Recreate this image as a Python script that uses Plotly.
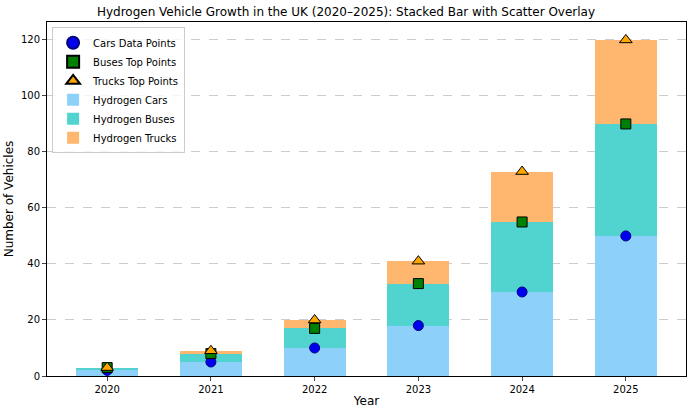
import plotly.graph_objects as go

years = ["2020", "2021", "2022", "2023", "2024", "2025"]
cars = [2, 5, 10, 18, 30, 50]
buses = [1, 3, 7, 15, 25, 40]
trucks = [0, 1, 3, 8, 18, 30]

xs = list(range(len(years)))
bus_top = [c + b for c, b in zip(cars, buses)]
truck_top = [c + b + t for c, b, t in zip(cars, buses, trucks)]

fig = go.Figure()
fig.add_trace(go.Bar(x=xs, y=cars, name="Hydrogen Cars", width=0.6, legendrank=4,
                     marker=dict(color="rgba(135,206,250,0.95)", line=dict(width=0))))
fig.add_trace(go.Bar(x=xs, y=buses, name="Hydrogen Buses", width=0.6, legendrank=5,
                     marker=dict(color="rgba(72,209,204,0.95)", line=dict(width=0))))
fig.add_trace(go.Bar(x=xs, y=trucks, name="Hydrogen Trucks", width=0.6, legendrank=6,
                     marker=dict(color="rgba(255,178,102,0.95)", line=dict(width=0))))
fig.add_trace(go.Scatter(x=xs, y=cars, mode="markers", name="Cars Data Points", legendrank=1,
                         marker=dict(color="#0000ee", size=10, symbol="circle",
                                     line=dict(color="#000080", width=1))))
fig.add_trace(go.Scatter(x=xs, y=bus_top, mode="markers", name="Buses Top Points", legendrank=2,
                         marker=dict(color="#008000", size=10, symbol="square",
                                     line=dict(color="black", width=1))))
fig.add_trace(go.Scatter(x=xs, y=truck_top, mode="markers", name="Trucks Top Points", legendrank=3,
                         marker=dict(color="#ffa500", size=11, symbol="triangle-up",
                                     line=dict(color="black", width=1))))

fig.update_layout(
    barmode="stack",
    width=692, height=413,
    margin=dict(l=47, r=6, t=22, b=37),
    paper_bgcolor="white", plot_bgcolor="white",
    font=dict(family="DejaVu Sans", size=10, color="black"),
    title=dict(text="Hydrogen Vehicle Growth in the UK (2020–2025): Stacked Bar with Scatter Overlay",
               x=0.5, xanchor="center", y=1 - 12 / 413, yanchor="middle", font=dict(size=12)),
    legend=dict(x=0.008, y=0.985, xanchor="left", yanchor="top", bgcolor="rgba(255,255,255,0.8)",
                bordercolor="#cccccc", borderwidth=1, traceorder="normal",
                font=dict(size=10), itemsizing="constant", itemwidth=30, tracegroupgap=0),
    showlegend=True,
    xaxis=dict(tickmode="array", tickvals=xs, ticktext=years, range=[-0.58, 5.58],
               showline=True, linecolor="black", mirror=True, ticks="outside", ticklen=4,
               showgrid=False, zeroline=False,
               title=dict(text="Year", standoff=2)),
    yaxis=dict(range=[0, 126.4], tickvals=[0, 20, 40, 60, 80, 100, 120],
               showline=True, linecolor="black", mirror=True, ticks="outside", ticklen=4,
               showgrid=True, gridcolor="#cccccc", griddash="dash", gridwidth=0.7,
               zeroline=False, title=dict(text="Number of Vehicles", standoff=4)),
)

fig.write_html("out.html", config={"displayModeBar": False},
               post_script="document.body.style.margin='0';document.body.style.overflow='hidden';")
